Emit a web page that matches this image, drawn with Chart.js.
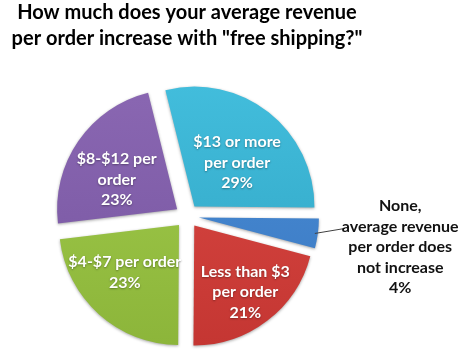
<!DOCTYPE html>
<html>
<head>
<meta charset="utf-8">
<script src="https://cdn.jsdelivr.net/npm/chart.js@4/dist/chart.umd.min.js"></script>
<style>
  html, body { margin: 0; padding: 0; background: #ffffff; }
  #wrap { position: relative; width: 460px; height: 356px; }
</style>
</head>
<body>
<div id="wrap"><canvas id="c" width="460" height="356"></canvas></div>
<script>
// ---- data ----
const titleLines = ['How much does your average revenue', 'per order increase with "free shipping?"'];
const categories = [
  ['$13 or more', 'per order'],
  ['None,', 'average revenue', 'per order does', 'not increase'],
  ['Less than $3', 'per order'],
  ['$4-$7 per order'],
  ['$8-$12 per', 'order']
];
const values = [29, 4, 21, 23, 23];
const percentLabels = ['29%', '4%', '21%', '23%', '23%'];

// ---- style ----
const colorsTop = ['#42bddc', '#4a8fd8', '#dc4a45', '#a2cc4c', '#8a67b2'];
const colorsBot = ['#2fa3c2', '#3a77c0', '#c43632', '#8cb53a', '#7655a0'];
const labelRadiusFrac = [0.51, 1.0, 0.70, 0.60, 0.56];
const labelAngleShift = [6, 0, 0, 7, -8.6];
const EXPLODE = 12;
const RADIUS = 120;
const FONT = 'Lato, "Open Sans", sans-serif';

const explodePlugin = {
  id: 'explode',
  afterDatasetsUpdate(chart) {
    const meta = chart.getDatasetMeta(0);
    const ca = chart.chartArea;
    const cx = (ca.left + ca.right) / 2, cy = (ca.top + ca.bottom) / 2;
    meta.data.forEach(arc => {
      const mid = (arc.startAngle + arc.endAngle) / 2;
      arc.x = cx + Math.cos(mid) * EXPLODE;
      arc.y = cy + Math.sin(mid) * EXPLODE;
    });
  },
  beforeDatasetsDraw(chart) {
    const ctx = chart.ctx;
    ctx.save();
    ctx.shadowColor = 'rgba(0,0,0,0.35)';
    ctx.shadowBlur = 3;
    ctx.shadowOffsetX = 0;
    ctx.shadowOffsetY = 1;
  },
  afterDatasetsDraw(chart) {
    chart.ctx.restore();
  }
};

const labelPlugin = {
  id: 'sliceLabels',
  afterDraw(chart) {
    const ctx = chart.ctx;
    const meta = chart.getDatasetMeta(0);
    const lh = 20.5;
    ctx.save();
    ctx.font = 'bold 16px ' + FONT;
    ctx.textAlign = 'center';
    ctx.textBaseline = 'middle';
    meta.data.forEach((arc, i) => {
      const mid = (arc.startAngle + arc.endAngle) / 2;
      const lines = categories[i].concat([percentLabels[i]]);
      if (i === 1) {
        // outside label with leader line
        const ox = arc.x + Math.cos(mid) * arc.outerRadius;
        const oy = arc.y + Math.sin(mid) * arc.outerRadius;
        let maxW = 0;
        lines.forEach(l => { maxW = Math.max(maxW, ctx.measureText(l).width); });
        const left = ox + 24;
        const tx = left + maxW / 2;
        const ty0 = oy - lh * 1 - 7;
        ctx.strokeStyle = '#404040';
        ctx.lineWidth = 1;
        ctx.beginPath();
        ctx.moveTo(ox - 3, oy);
        ctx.lineTo(left + 3, ty0 + lh + 2);
        ctx.stroke();
        ctx.fillStyle = '#111111';
        lines.forEach((l, k) => ctx.fillText(l, tx, ty0 + k * lh));
      } else {
        const a = mid + labelAngleShift[i] * Math.PI / 180;
        const r = arc.outerRadius * labelRadiusFrac[i];
        const px = arc.x + Math.cos(a) * r;
        const py = arc.y + Math.sin(a) * r;
        const y0 = py - (lines.length - 1) * lh / 2;
        ctx.fillStyle = '#ffffff';
        ctx.shadowColor = 'rgba(0,0,0,0.35)';
        ctx.shadowBlur = 2;
        ctx.shadowOffsetY = 1;
        lines.forEach((l, k) => ctx.fillText(l, px, y0 + k * lh));
        ctx.shadowColor = 'transparent';
      }
    });
    ctx.restore();
  }
};

function gradientFor(ctx, i) {
  const chart = ctx.chart;
  const ca = chart.chartArea;
  if (!ca) return colorsTop[i];
  const cy = (ca.top + ca.bottom) / 2;
  const g = chart.ctx.createLinearGradient(0, cy - RADIUS - EXPLODE, 0, cy + RADIUS + EXPLODE);
  g.addColorStop(0, colorsTop[i]);
  g.addColorStop(1, colorsBot[i]);
  return g;
}

new Chart(document.getElementById('c'), {
  type: 'pie',
  data: {
    labels: categories.map(c => c.join(' ')),
    datasets: [{
      data: values,
      backgroundColor: (ctx) => gradientFor(ctx, ctx.dataIndex),
      borderWidth: 0,
      clip: false
    }]
  },
  options: {
    responsive: false,
    animation: false,
    rotation: -14,
    radius: RADIUS,
    layout: { padding: { left: 0, right: 86, top: 0, bottom: 0 } },
    plugins: {
      legend: { display: false },
      tooltip: { enabled: false },
      title: {
        display: true,
        text: titleLines,
        color: '#000000',
        font: { family: FONT, size: 20, weight: 'bold', lineHeight: 1.3 },
        padding: { top: 0, bottom: 24 }
      }
    }
  },
  plugins: [explodePlugin, labelPlugin]
});
</script>
</body>
</html>
